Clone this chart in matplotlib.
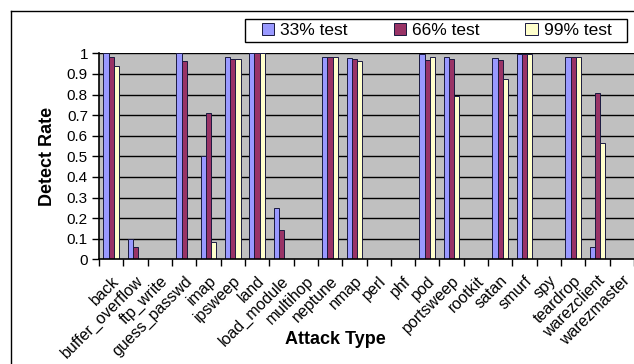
import matplotlib
matplotlib.use("Agg")
import matplotlib.pyplot as plt
from matplotlib.lines import Line2D
from matplotlib.patches import Rectangle
import numpy as np

plt.rcParams['font.family'] = ['Liberation Sans', 'DejaVu Sans']

attacks = ["back", "buffer_overflow", "ftp_write", "guess_passwd", "imap",
           "ipsweep", "land", "load_module", "multihop", "neptune", "nmap",
           "perl", "phf", "pod", "portsweep", "rootkit", "satan", "smurf",
           "spy", "teardrop", "warezclient", "warezmaster"]

test_33 = [1.00, 0.10, 0.0, 1.00, 0.50, 0.98, 1.00, 0.25, 0.0, 0.983, 0.979,
           0.0, 0.0, 0.997, 0.983, 0.0, 0.976, 0.997, 0.0, 0.983, 0.058, 0.0]
test_66 = [0.98, 0.061, 0.0, 0.963, 0.71, 0.972, 1.00, 0.142, 0.0, 0.983, 0.974,
           0.0, 0.0, 0.967, 0.974, 0.0, 0.967, 0.997, 0.0, 0.983, 0.805, 0.0]
test_99 = [0.94, 0.0, 0.0, 0.0, 0.085, 0.972, 1.00, 0.0, 0.0, 0.983, 0.963,
           0.0, 0.0, 0.98, 0.793, 0.0, 0.874, 0.997, 0.0, 0.983, 0.563, 0.0]

series_names = ["33% test", "66% test", "99% test"]
series_colors = ["#9999FF", "#993366", "#FFFFCC"]

W, H = 634, 364
fig = plt.figure(figsize=(W / 100, H / 100), dpi=100)
fig.patch.set_facecolor("white")

ax = fig.add_axes([99 / W, 1 - 259.3 / H, 1 - 99 / W, (259.3 - 53.3) / H])
ax.set_facecolor("#C0C0C0")

x = np.arange(len(attacks))
bw = 0.214
for k, (vals, name, col) in enumerate(zip([test_33, test_66, test_99],
                                          series_names, series_colors)):
    ax.bar(x + (k - 1) * bw, vals, width=bw, color=col, edgecolor="#1a1a40",
           linewidth=0.7, label=name, zorder=3)

ax.set_xlim(-0.5, len(attacks) - 0.5)
ax.set_ylim(0, 1)

yt = np.round(np.arange(0, 1.01, 0.1), 1)
ax.set_yticks(yt)
ax.set_yticklabels(["0" if v == 0 else ("1" if v == 1 else f"{v:g}") for v in yt],
                   fontsize=11)
for v in yt[1:]:
    ax.axhline(v, color="black", linewidth=1.0, zorder=1)

ax.set_xticks(x)
ax.set_xticklabels(attacks, rotation=45, ha="right", va="top",
                   rotation_mode="anchor", fontsize=11.5)
ax.set_xticks(np.arange(-0.5, len(attacks), 1.0), minor=True)
ax.tick_params(axis="x", which="major", length=0, pad=10)
ax.tick_params(axis="x", which="minor", length=5, width=1.0, color="black")
ax.tick_params(axis="y", length=5, width=1.0, color="black", pad=3)

for side in ["top", "right"]:
    ax.spines[side].set_visible(False)
for side in ["left", "bottom"]:
    ax.spines[side].set_color("black")
    ax.spines[side].set_linewidth(1.2)
    ax.spines[side].set_zorder(4)

ax.set_ylabel("Detect Rate", fontsize=13, fontweight="bold", labelpad=8)
fig.text(335 / W, 1 - 340 / H, "Attack Type", fontsize=13, fontweight="bold",
         ha="center", va="center")

# legend box
fig.add_artist(Rectangle((245 / W, 1 - 42 / H), (627 - 245) / W, 23 / H,
                         transform=fig.transFigure, facecolor="white",
                         edgecolor="black", linewidth=1.0, zorder=5))
leg = fig.legend(loc="center left", ncol=3,
                 bbox_to_anchor=(262 / W, 1 - 30.5 / H),
                 fontsize=12.5, frameon=False,
                 handlelength=0.7, handleheight=0.7, handletextpad=0.35,
                 borderpad=0, borderaxespad=0, columnspacing=2.65)
leg.set_zorder(6)

# chart area border (left and top edges)
fig.add_artist(Line2D([10.5 / W, 10.5 / W], [0, 1 - 11 / H], color="black",
                      linewidth=1.0, transform=fig.transFigure))
fig.add_artist(Line2D([10.5 / W, 1], [1 - 11 / H, 1 - 11 / H], color="black",
                      linewidth=1.0, transform=fig.transFigure))

fig.savefig("out.png", dpi=100)
